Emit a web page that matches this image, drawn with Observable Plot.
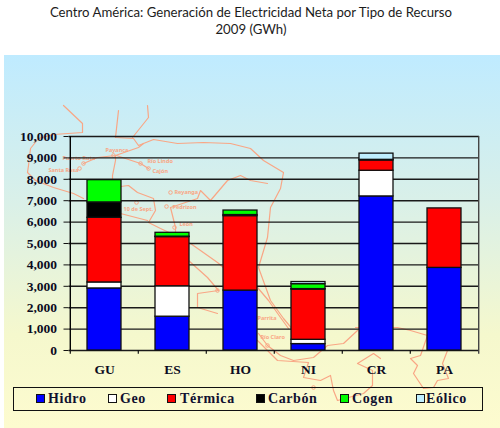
<!DOCTYPE html>
<html><head><meta charset="utf-8">
<script src="https://cdn.jsdelivr.net/npm/d3@7"></script>
<script src="https://cdn.jsdelivr.net/npm/@observablehq/plot@0.6"></script>
<style>
html,body{margin:0;padding:0;background:#fff}
#page{position:relative;width:500px;height:428px;overflow:hidden}
#title{position:absolute;left:0;top:3.5px;width:502px;text-align:center;font:13.2px/17.5px Lato,sans-serif;color:#1c1c1c}
#panel{position:absolute;left:4px;top:55px;right:0;bottom:0;background:linear-gradient(#bfebff 0%,#daf0e8 40%,#f5f8cd 75%,#fdfbcf 100%)}
#map,#chart{position:absolute;left:0;top:0}
#legend{position:absolute;left:13px;top:387px;width:468px;height:22px;border:1.5px solid #111;font:bold 14px "Liberation Serif",serif;letter-spacing:.6px;color:#101030}
#legend span{position:absolute;top:3px;white-space:nowrap}
#legend i{position:absolute;top:6px;width:7px;height:7px;border:1px solid #111}
</style></head><body>
<div id="page">
<div id="title">Centro América: Generación de Electricidad Neta por Tipo de Recurso<br>2009 (GWh)</div>
<div id="panel"></div>
<div id="map"></div>
<div id="chart"></div>
<div id="legend"></div>
</div>
<script>
const paises = ["GU","ES","HO","NI","CR","PA"];
const tipos = ["Hidro","Geo","Térmica","Carbón","Cogen","Eólico"];
const colores = ["#0000ff","#ffffff","#ff0000","#000000","#00ff00","#bfefff"];
const hidro   = [2900,1580,2800, 300,7200,3860];
const geo     = [ 280,1420,   0, 200,1200,   0];
const termica = [3020,2300,3480,2350, 480,2780];
const carbon  = [ 720,  20,  50,  20,  30,   0];
const cogen   = [1040, 180, 210, 230,   0,   0];
const eolico  = [   0,   0,   0, 100, 290,   0];
const series = [hidro,geo,termica,carbon,cogen,eolico];
const yTicks = [0,1000,2000,3000,4000,5000,6000,7000,8000,9000,10000];

// Fondo: contorno aproximado del istmo, en longitud y latitud
const mapa = [
 {lon:[-91.68,-90.92,-90.92,-92.08,-92.68,-93,-93.08,-93.12,-92.8,-92.08,-91.28,-90.88],
  lat:[18.8,18.08,17.72,17.64,17.48,17.08,16.4,16.12,15.8,15.52,15.28,15.08]},
 {lon:[-89.4,-89.08,-88.72,-88.08,-88,-88.28,-87.8,-87.2,-86.6,-86.2,-85.52,-84.92,-83.92,-83.48,-83,-82.68],
  lat:[15.56,15.6,15.32,15.08,14.6,14.12,13.88,13.6,13.28,13,12.52,12,11.52,11,10.32,9.88]},
 {lon:[-89.48,-89.6,-88.88,-88.68,-88.08,-87.12,-86.08,-85,-84.2,-83.68,-82.88,-83,-83.4,-83.52,-83.88,-83.4,-82.88,-82.48],
  lat:[18.6,17.52,17.48,17.2,17.44,17.28,17.32,17.28,17.08,16.6,16.12,15.48,14.72,13.52,12.32,11,10.28,9.8]},
 {lon:[-88.32,-88.28,-88.92], lat:[18.8,18.32,17.52]},
 {lon:[-90.88,-90.32,-89.6,-88.68,-88.48], lat:[16.48,16.72,16.8,17.12,17.28]},
 {lon:[-89.6,-89.6,-89.72,-89.72], lat:[16.8,16.6,16,15.72]},
 {lon:[-89.56,-88.6,-88.28], lat:[16.8,16.48,16.28]},
 {lon:[-87.4,-86.32,-86.2,-85.8,-85.12,-84.6,-84.2,-83.52], lat:[14.72,15.08,15.4,15,15.8,16,15.8,15.68]},
 {lon:[-87.4,-87.2,-87.2], lat:[14.72,13.92,13.4]},
 {lon:[-89.4,-88.32], lat:[14.48,14.2]},
 {lon:[-86.68,-85.92,-85.48,-86.32,-86.32,-85.52], lat:[12.6,11.92,11.4,11.28,10.72,10.48]},
 {lon:[-83.88,-83.52,-83,-82.48,-81.68,-81.12,-80.48,-79.92], lat:[9.68,9.2,8.8,8.6,8.72,9.2,9.28,9.8]},
 {lon:[-83.92,-83.12,-81.88,-82.08,-81.4,-81,-80.88,-80.72,-79.68,-79.32,-79.32,-79.92,-79.28,-79],
  lat:[9.4,8.6,8.52,7.92,7.8,8,7.4,7,7.28,7.6,8.2,8.48,8.88,8.68]},
 {lon:[-80,-78.32,-77.8,-77.12,-77.4,-77.8,-77.52,-77.68,-77.28,-76.88,-76.72,-76.28,-76.52,-76.32],
  lat:[9.92,9.92,9.8,9.6,8.8,8.68,8.4,8.08,7.48,7.52,7.8,7.88,8.48,9]}
];
const ciudadLon = [-89.68,-90.88,-91.04,-88.6,-88.28,-87.4,-87.56,-88.76,-87.24,-85.52,-83.52,-81.68];
const ciudadLat = [16.8,16.48,16.28,16.48,16.28,15.32,14.76,14.92,13.92,11.4,9.2,7.52];
const nombres = ["Santa Rosa","Puerto Ruta","Payanca","Río Lindo","Cajón","Reyanga","Pedrizon","León","10 de Sept.","Parrita","Río Claro"];
const nombreLon = [-92.28,-91.72,-90,-88.32,-88.12,-87.24,-87.32,-87.04,-89.28,-83.92,-83.8];
const nombreLat = [16.2,16.68,17,16.56,16.16,15.32,14.72,14.04,14.64,10.28,9.52];

const lineas = mapa.flatMap((m,k)=>m.lon.map((lon,i)=>({k,lon,lat:m.lat[i]})));
const ciudades = ciudadLon.map((lon,i)=>({lon,lat:ciudadLat[i]}));
const rotulos = nombres.map((n,i)=>({n,lon:nombreLon[i],lat:nombreLat[i]}));
const tinta = "#f9a685";

document.getElementById("map").append(Plot.plot({
  width:500,height:428,margin:0,
  style:{background:"transparent",overflow:"visible"},
  x:{domain:[-94.2,-74.2],axis:null},
  y:{domain:[5.88,23],axis:null},
  marks:[
    Plot.line(lineas,{x:"lon",y:"lat",z:"k",stroke:tinta,strokeWidth:1.2}),
    Plot.dot(ciudades,{x:"lon",y:"lat",r:1.8,stroke:tinta,strokeWidth:1}),
    Plot.text(rotulos,{x:"lon",y:"lat",text:"n",textAnchor:"start",fontSize:5.5,fill:tinta,fontWeight:"bold"})
  ]
}));

const filas = paises.flatMap((pais,i)=>tipos.map((tipo,j)=>({pais,tipo,valor:series[j][i]}))).filter(d=>d.valor>0);
const fuente = "'Liberation Serif',serif";
const paso = 410.5/paises.length, mitad = paso/2;
document.getElementById("chart").append(Plot.plot({
  width:500,height:428,marginLeft:68.5,marginRight:21,marginTop:136,marginBottom:78,
  style:{background:"transparent",fontFamily:fuente,fontWeight:"bold",fontSize:"13.5px",color:"#0c0c22",overflow:"visible"},
  x:{domain:paises,paddingInner:.5,paddingOuter:.25,label:null},
  y:{domain:[0,10000],label:null},
  color:{domain:tipos,range:colores},
  marks:[
    Plot.ruleY(yTicks,{stroke:"#1a1a1a",strokeWidth:1.4}),
    Plot.ruleX([paises[paises.length-1]],{dx:mitad,y1:-180,y2:10000,stroke:"#444",strokeWidth:1.4}),
    Plot.ruleX(paises,{dx:-mitad,y1:-180,y2:0,stroke:"#111",strokeWidth:1.2}),
    Plot.ruleX([paises[0]],{dx:-mitad,y1:0,y2:10000,stroke:"#000",strokeWidth:1.4}),
    Plot.barY(filas,{x:"pais",y:"valor",fill:"tipo",stroke:"#101010",strokeWidth:1.3}),
    Plot.axisY({ticks:yTicks,tickFormat:d3.format(","),tickSize:5,tickPadding:7,label:null,stroke:"#111"}),
    Plot.axisX({tickSize:0,tickPadding:14,label:null})
  ]
}));

const posSw = [22,94,153,242,326,402];
const posTx = [34,106,166,254,338,412];
const leg = document.getElementById("legend");
tipos.forEach((t,i)=>{
  const sw=document.createElement("i");sw.style.left=posSw[i]+"px";sw.style.background=colores[i];leg.append(sw);
  const s=document.createElement("span");s.style.left=posTx[i]+"px";s.textContent=t;leg.append(s);
});
</script>
</body></html>
